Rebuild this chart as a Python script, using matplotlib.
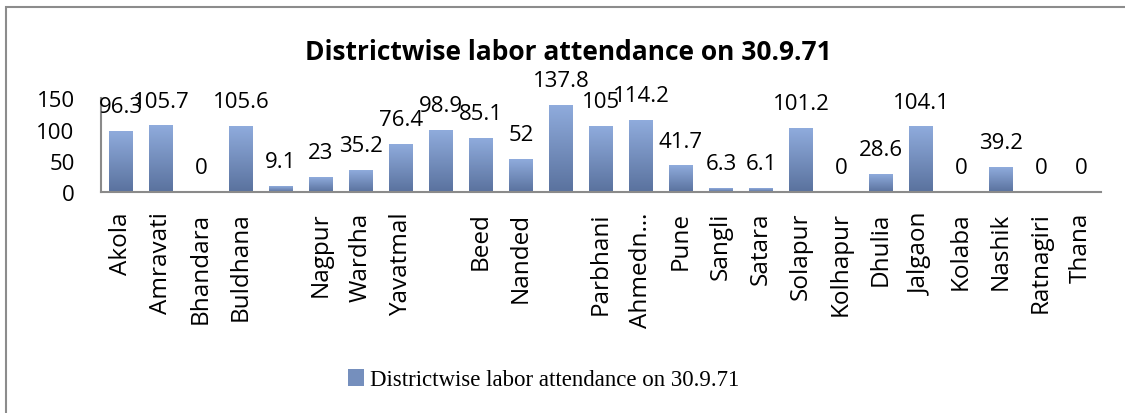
#!/usr/bin/env python3
"""
Bar chart of districtwise labour attendance on 30.9.71 (in thousands).

Writes out.png (1125x414).
"""
import matplotlib
matplotlib.use("Agg")
import matplotlib.pyplot as plt
import numpy as np
from matplotlib.patches import Rectangle

TITLE = "Districtwise labor attendance on 30.9.71"

districts = [
    "Akola", "Amravati", "Bhandara", "Buldhana", "", "Nagpur", "Wardha",
    "Yavatmal", "", "Beed", "Nanded", "", "Parbhani", "Ahmedn\u2026", "Pune",
    "Sangli", "Satara", "Solapur", "Kolhapur", "Dhulia", "Jalgaon", "Kolaba",
    "Nashik", "Ratnagiri", "Thana",
]
attendance = [
    96.3, 105.7, 0, 105.6, 9.1, 23, 35.2, 76.4, 98.9, 85.1, 52, 137.8,
    105, 114.2, 41.7, 6.3, 6.1, 101.2, 0, 28.6, 104.1, 0, 39.2, 0, 0,
]
y_ticks = [0, 50, 100, 150]

BAR_TOP = np.array([0x8f, 0xab, 0xdc]) / 255
BAR_BOTTOM = np.array([0x5a, 0x72, 0x9e]) / 255
AXIS_GREY = "#8a8a8a"

plt.rcParams["font.family"] = ["Open Sans", "DejaVu Sans"]


def gradient_fill(ax, bar):
    """Paint a vertical light-to-dark gradient inside one bar."""
    h = bar.get_height()
    if h <= 0:
        return
    t = np.linspace(0, 1, 64)[:, None, None]
    img = BAR_BOTTOM * (1 - t) + BAR_TOP * t
    x0 = bar.get_x()
    ax.imshow(img, extent=[x0, x0 + bar.get_width(), 0, h], origin="lower",
              aspect="auto", interpolation="bilinear", zorder=2)


def main():
    fig = plt.figure(figsize=(11.25, 4.14), dpi=100)
    ax = fig.add_axes([0.0898, 0.5338, 0.8889, 0.2263])

    x = np.arange(len(districts))
    mid = (BAR_TOP + BAR_BOTTOM) / 2
    bars = ax.bar(x, attendance, width=0.58, color=mid, zorder=1,
                  label=TITLE)
    for b in bars:
        gradient_fill(ax, b)

    for xi, v in zip(x, attendance):
        ax.annotate(f"{v:g}", xy=(xi, v), xytext=(0, 14), textcoords="offset points",
                    ha="center", va="baseline", fontsize=16, zorder=4)

    ax.set_xlim(-0.5, len(districts) - 0.5)
    ax.set_ylim(0, 150)
    ax.set_yticks(y_ticks)
    ax.set_xticks(x)
    ax.set_xticklabels(districts, rotation=90, fontsize=17.5)
    ax.tick_params(axis="y", length=0, pad=19, labelsize=16)
    ax.tick_params(axis="x", length=0, pad=14)

    for side in ("top", "right"):
        ax.spines[side].set_visible(False)
    for side in ("left", "bottom"):
        ax.spines[side].set_color(AXIS_GREY)
        ax.spines[side].set_linewidth(1.5)

    fig.text(0.505, 0.855, TITLE, ha="center", va="baseline",
             fontsize=19, fontweight="bold")

    fig.legend(handles=[bars], labels=[TITLE], loc="center left",
               bbox_to_anchor=(0.309, 0.08), frameon=False,
               prop={"family": "Liberation Serif", "size": 16.5},
               handlelength=0.72, handleheight=0.72, handletextpad=0.25,
               borderpad=0, borderaxespad=0)

    # outer chart frame, cut off at the right and bottom edges
    fig.patches.append(Rectangle((6 / 1125, -0.1), 1.2, 1.1 - 8 / 414,
                                 transform=fig.transFigure, fill=False,
                                 edgecolor="#8c8c8c", linewidth=1.5))

    fig.savefig("out.png", dpi=100)


if __name__ == "__main__":
    main()
